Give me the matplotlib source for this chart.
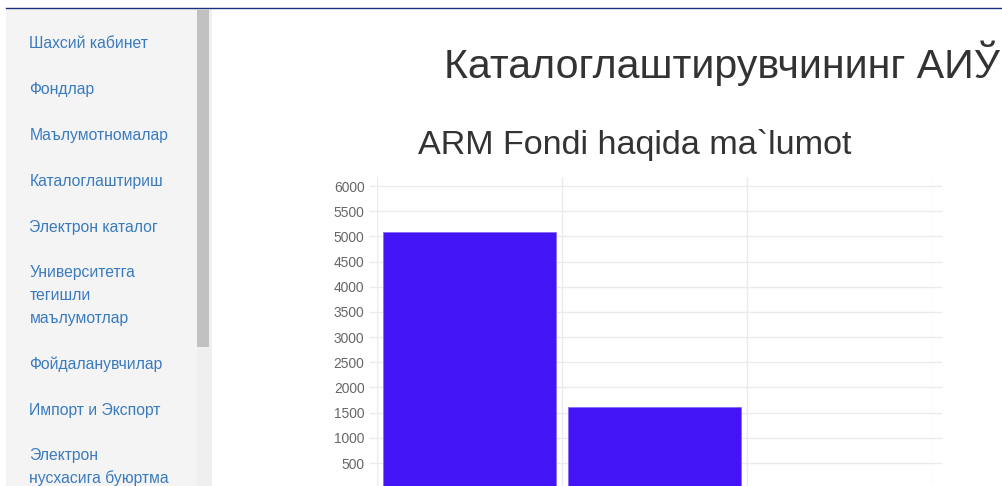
import matplotlib
matplotlib.use("Agg")
import matplotlib.pyplot as plt
from matplotlib.patches import Rectangle

plt.rcParams['font.family'] = ['Liberation Sans', 'DejaVu Sans']

W, H = 1003, 486

# chart data
categories = ['Kitoblar', 'Jurnallar', 'Boshqalar']
values = [5090, 1610, 0]
y_ticks = list(range(500, 6001, 500))

# sidebar menu (text, baseline in px)
menu_lines = [
    ('Шахсий кабинет', 48.5),
    ('Фондлар', 94),
    ('Маълумотномалар', 140),
    ('Каталоглаштириш', 186),
    ('Электрон каталог', 232),
    ('Университетга', 277),
    ('тегишли', 300),
    ('маълумотлар', 323),
    ('Фойдаланувчилар', 369),
    ('Импорт и Экспорт', 415),
    ('Электрон', 460),
    ('нусхасига буюртма', 483),
]

page_title = 'Каталоглаштирувчининг АИЎ'
chart_title = 'ARM Fondi haqida ma`lumot'


def fx(px):
    return px / W


def fy(py):
    return 1 - py / H


fig = plt.figure(figsize=(W / 100, H / 100), dpi=100)
fig.patch.set_facecolor('white')

# page chrome: blue rule, sidebar, scrollbar
fig.add_artist(plt.Line2D([fx(6), 1], [fy(8), fy(8)], color='#1c2f7e', lw=1.0))
fig.add_artist(Rectangle((fx(6), 0), fx(191), fy(9), color='#f4f4f4', lw=0))
fig.add_artist(Rectangle((fx(197), 0), fx(15), fy(9), color='#efefef', lw=0))
fig.add_artist(Rectangle((fx(197), fy(347)), fx(12), fy(10) - fy(347), color='#c1c1c1', lw=0))

for label, ypx in menu_lines:
    fig.text(fx(29.5), fy(ypx), label, color='#3a7bbf', fontsize=11.3, va='baseline', ha='left')

fig.text(fx(1000), fy(78.5), page_title, color='#333333', fontsize=29.6, ha='right', va='baseline')

# chart area
ax = fig.add_axes([fx(377), 0, fx(932 - 377), fy(177)])
x = range(len(categories))
ax.bar(x, values, width=0.935, color='#4314f5', edgecolor='#8a6ff9', linewidth=0.7, zorder=3)
ax.set_xlim(-0.5, len(categories) - 0.5)
ax.set_ylim(44, 6180)

grid_c = '#ebebeb'
ax.hlines(y_ticks, -0.015, 1.018, transform=ax.get_yaxis_transform(), color=grid_c, lw=1, clip_on=False, zorder=1)
for xv in [-0.5, 0.5, 1.5, 2.5]:
    ax.axvline(xv, color=grid_c, lw=1, zorder=1)

ax.set_yticks(y_ticks)
ax.set_yticklabels([str(t) for t in y_ticks])
ax.tick_params(axis='y', length=0, pad=9, labelsize=9.9, labelcolor='#666666')
ax.set_xticks([])
for s in ax.spines.values():
    s.set_visible(False)
ax.patch.set_alpha(0)

fig.text(fx(418), fy(154), chart_title, color='#333333', fontsize=24.6, ha='left', va='baseline')

fig.savefig('out.png', dpi=100)
